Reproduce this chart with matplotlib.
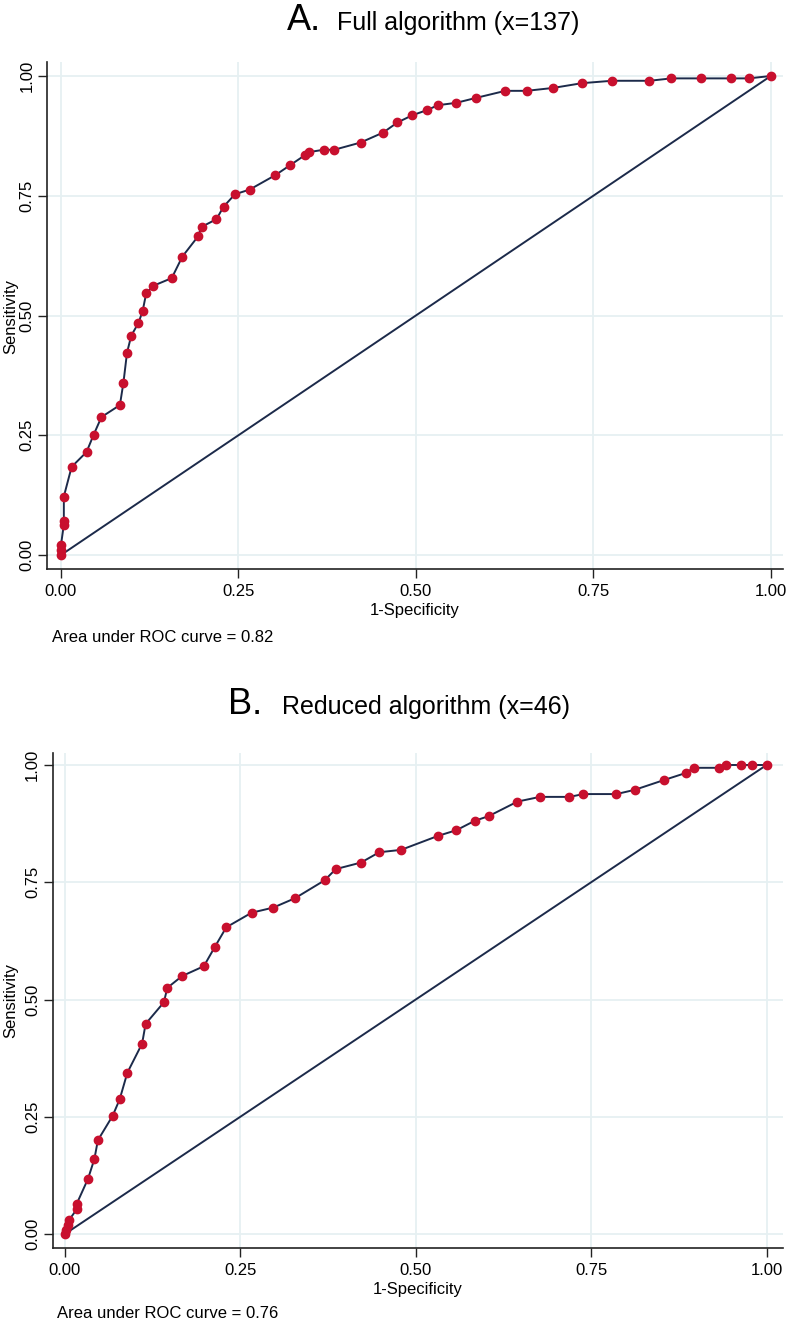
import matplotlib
matplotlib.use("Agg")
import matplotlib.pyplot as plt

plt.rcParams['font.family'] = ['Liberation Sans', 'DejaVu Sans']

# Panel A: Full algorithm
fpr_a = [0, 0, 0, 0.004, 0.004, 0.004, 0.015, 0.036, 0.046, 0.057, 0.083,
         0.088, 0.093, 0.099, 0.109, 0.115, 0.120, 0.130, 0.156, 0.171, 0.193,
         0.198, 0.219, 0.229, 0.245, 0.266, 0.302, 0.323, 0.344, 0.349, 0.370,
         0.385, 0.422, 0.454, 0.474, 0.495, 0.516, 0.531, 0.557, 0.584, 0.626,
         0.656, 0.693, 0.734, 0.776, 0.829, 0.860, 0.902, 0.944, 0.969, 1.0]
tpr_a = [0, 0.010, 0.021, 0.063, 0.070, 0.122, 0.184, 0.215, 0.251, 0.288, 0.313,
         0.360, 0.422, 0.458, 0.484, 0.509, 0.546, 0.562, 0.578, 0.623, 0.665,
         0.685, 0.701, 0.727, 0.753, 0.763, 0.793, 0.814, 0.835, 0.841, 0.846,
         0.846, 0.861, 0.882, 0.903, 0.918, 0.929, 0.939, 0.944, 0.954, 0.969,
         0.969, 0.975, 0.985, 0.990, 0.990, 0.995, 0.995, 0.995, 0.995, 1.0]

# Panel B: Reduced algorithm
fpr_b = [0, 0.001, 0.005, 0.006, 0.017, 0.017, 0.033, 0.042, 0.047, 0.068,
         0.078, 0.089, 0.110, 0.115, 0.141, 0.146, 0.167, 0.198, 0.214, 0.230,
         0.266, 0.297, 0.328, 0.370, 0.386, 0.422, 0.448, 0.479, 0.532, 0.558,
         0.584, 0.604, 0.645, 0.677, 0.719, 0.739, 0.786, 0.812, 0.854, 0.885,
         0.896, 0.932, 0.942, 0.963, 0.979, 1.0]
tpr_b = [0, 0.009, 0.019, 0.030, 0.053, 0.065, 0.118, 0.160, 0.200, 0.252,
         0.287, 0.344, 0.406, 0.448, 0.494, 0.525, 0.550, 0.571, 0.613, 0.654,
         0.685, 0.696, 0.716, 0.754, 0.778, 0.792, 0.814, 0.819, 0.849, 0.861,
         0.881, 0.891, 0.922, 0.932, 0.932, 0.938, 0.938, 0.947, 0.968, 0.983,
         0.994, 0.994, 1.0, 1.0, 1.0, 1.0]

ticks = [0, 0.25, 0.5, 0.75, 1.0]
tick_labels = ['0.00', '0.25', '0.50', '0.75', '1.00']
panel_letters = ['A.', 'B.']
panel_titles = ['Full algorithm (x=137)', 'Reduced algorithm (x=46)']
auc_texts = ['Area under ROC curve = 0.82', 'Area under ROC curve = 0.76']

W, H = 789, 1319
fig = plt.figure(figsize=(W / 100, H / 100), dpi=100)

NAVY = '#1c2a4a'
RED = '#c8102e'
GRID = '#e6f0f2'

def px_axes(left, top, right, bottom):
    return [left / W, 1 - bottom / H, (right - left) / W, (bottom - top) / H]

# axes rectangles (pixel): left spine, top, right, bottom spine
rects = [px_axes(47, 62, 783, 569), px_axes(52.5, 752.7, 783, 1248)]
xlims = [(-0.0197, 1.0172), (-0.0177, 1.0234)]
ylims = [(-0.0292, 1.0292), (-0.0298, 1.0262)]
ylabel_px = [(11, 316), (11, 1000)]

data = [(fpr_a, tpr_a), (fpr_b, tpr_b)]

for i, (rect, (fx, ty)) in enumerate(zip(rects, data)):
    ax = fig.add_axes(rect)
    ax.set_xlim(*xlims[i])
    ax.set_ylim(*ylims[i])
    ax.set_xticks(ticks)
    ax.set_yticks(ticks)
    ax.set_xticklabels(tick_labels, fontsize=12)
    ax.set_yticklabels(tick_labels, fontsize=12, rotation=90, va='center')
    ax.grid(True, color=GRID, lw=1.3)
    ax.set_axisbelow(True)
    for s in ['top', 'right']:
        ax.spines[s].set_visible(False)
    for s in ['left', 'bottom']:
        ax.spines[s].set_color('#222222')
        ax.spines[s].set_linewidth(1.2)
    ax.tick_params(direction='out', length=6.5, width=1.0, color='#222222', pad=4)
    ax.tick_params(axis='y', pad=2.5)
    ax.plot([0, 1], [0, 1], color=NAVY, lw=1.4, zorder=2)
    ax.plot(fx, ty, color=NAVY, lw=1.4, zorder=3,
            marker='o', markersize=6, markerfacecolor=RED, markeredgecolor=RED)
    ax.set_xlabel('1-Specificity', fontsize=12, labelpad=3)
    lx, ly = ylabel_px[i]
    fig.text(lx / W, 1 - ly / H, 'Sensitivity', fontsize=12, rotation=90,
             ha='center', va='center')

# titles
title_baselines = [30, 714]
letter_x = [287, 228]
text_x = [337, 282]
for i in range(2):
    yb = 1 - title_baselines[i] / H
    fig.text(letter_x[i] / W, yb, panel_letters[i], fontsize=26, va='baseline', ha='left')
    fig.text(text_x[i] / W, yb, panel_titles[i], fontsize=18, va='baseline', ha='left')

# AUC annotations
auc_pos = [(52, 637), (57, 1313)]
for (x, y), t in zip(auc_pos, auc_texts):
    fig.text(x / W, 1 - y / H, t, fontsize=12, va='center', ha='left')

fig.savefig('out.png', dpi=100)
